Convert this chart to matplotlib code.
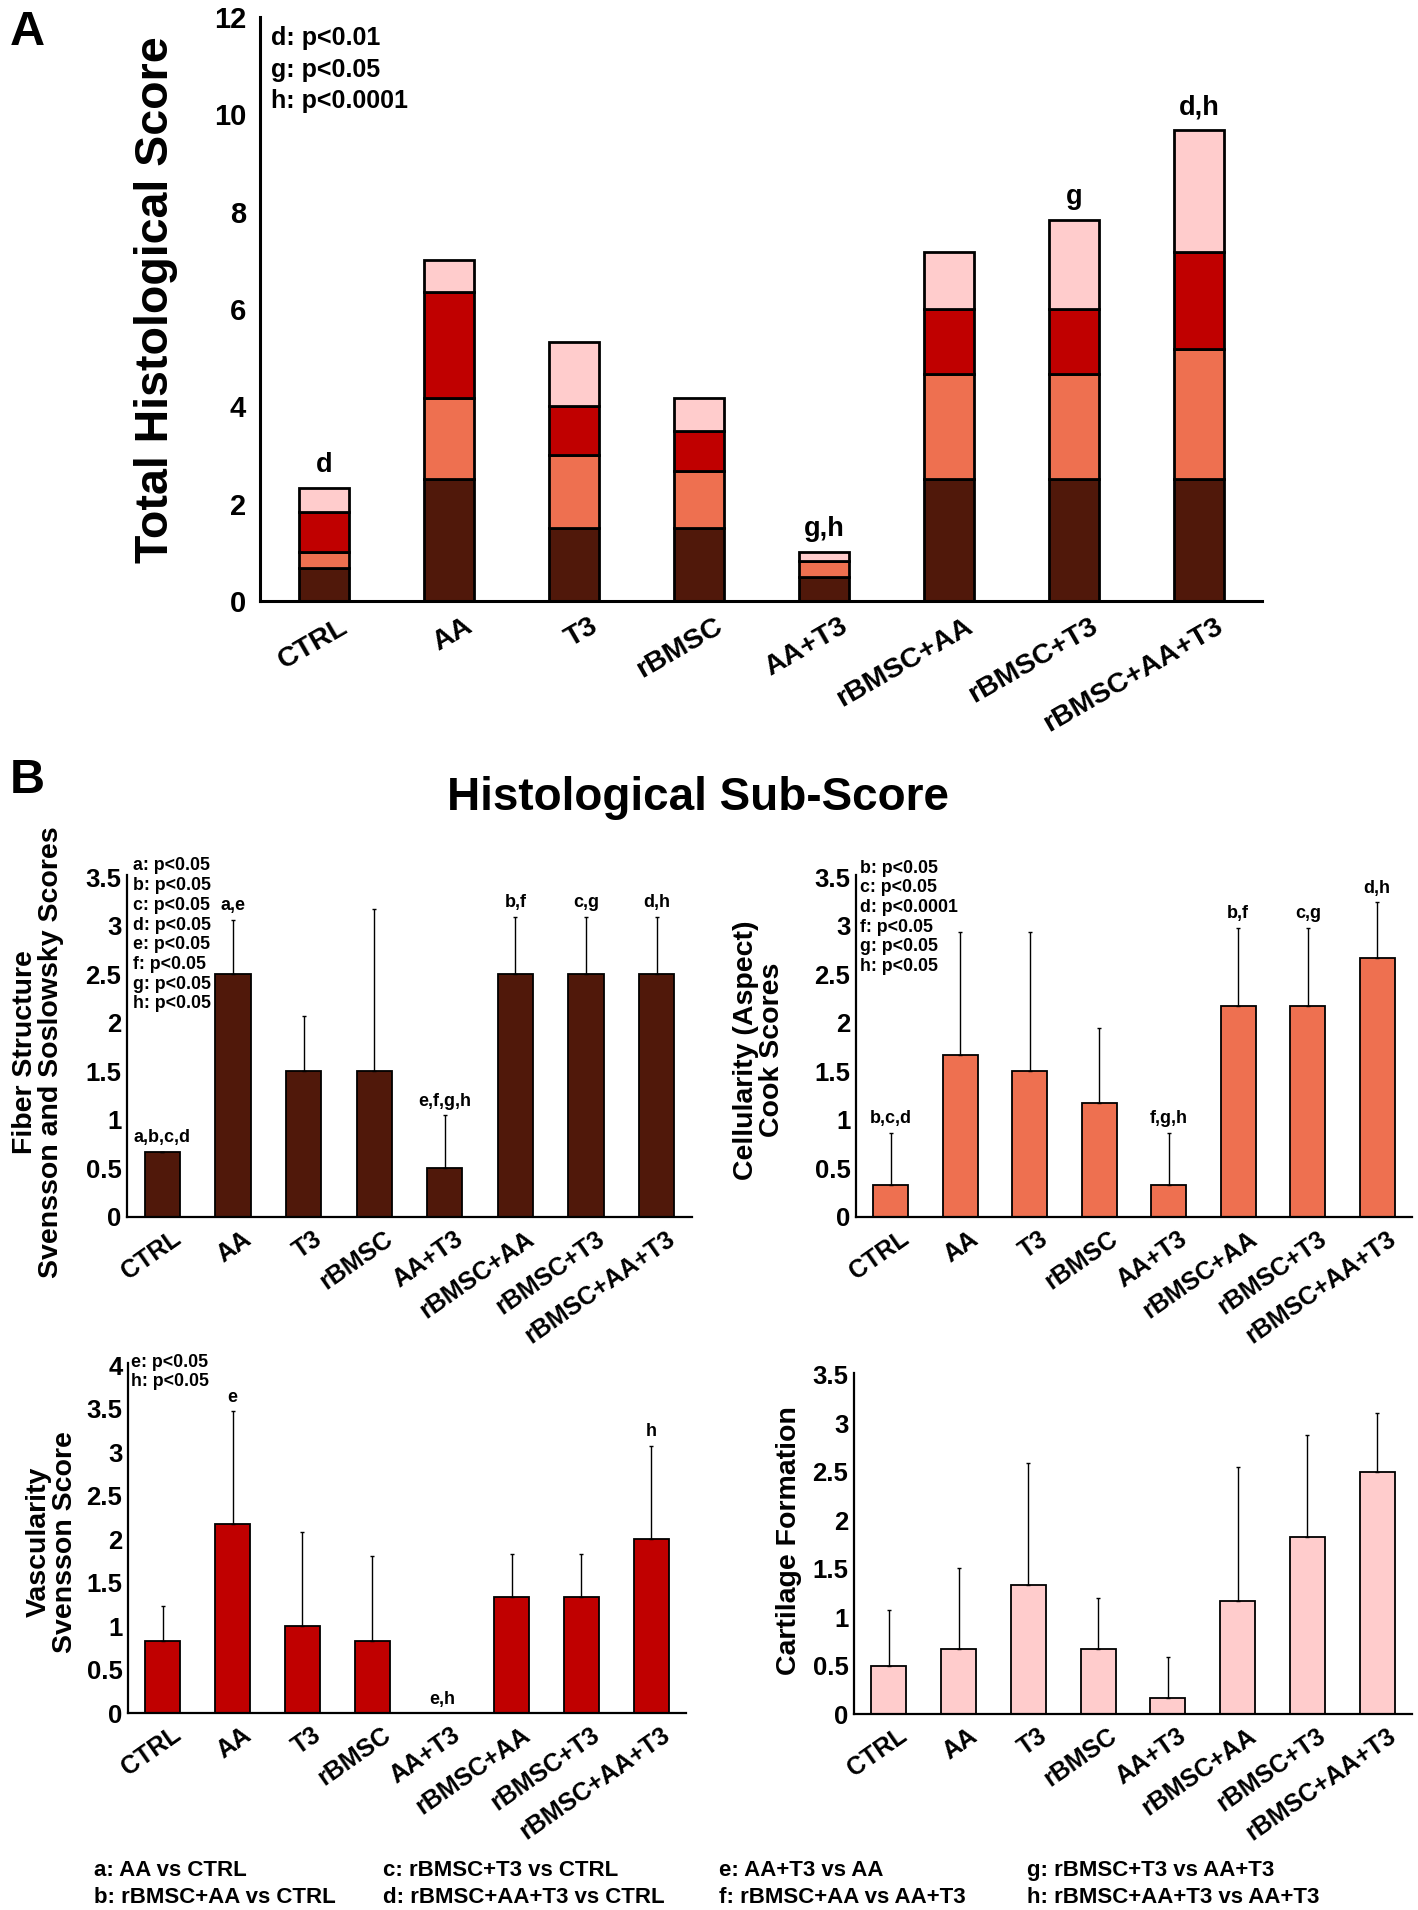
import numpy as np
import matplotlib.pyplot as plt
import matplotlib.transforms as mtransforms
from matplotlib.ticker import FuncFormatter

plt.rcParams['font.family'] = ['Liberation Sans', 'DejaVu Sans']
plt.rcParams['font.weight'] = 'bold'

W, H = 1418, 1910
DPI = 100

groups = ['CTRL', 'AA', 'T3', 'rBMSC', 'AA+T3', 'rBMSC+AA', 'rBMSC+T3', 'rBMSC+AA+T3']

# sub-scores (mean) and upper SD
fiber = [0.67, 2.5, 1.5, 1.5, 0.5, 2.5, 2.5, 2.5]
fiber_sd = [0.0, 0.56, 0.57, 1.67, 0.55, 0.59, 0.59, 0.59]
fiber_sig = ['a,b,c,d', 'a,e', '', '', 'e,f,g,h', 'b,f', 'c,g', 'd,h']
fiber_p = ['a: p<0.05', 'b: p<0.05', 'c: p<0.05', 'd: p<0.05',
           'e: p<0.05', 'f: p<0.05', 'g: p<0.05', 'h: p<0.05']

cell = [0.33, 1.67, 1.5, 1.17, 0.33, 2.17, 2.17, 2.67]
cell_sd = [0.54, 1.26, 1.43, 0.78, 0.54, 0.81, 0.81, 0.57]
cell_sig = ['b,c,d', '', '', '', 'f,g,h', 'b,f', 'c,g', 'd,h']
cell_p = ['b: p<0.05', 'c: p<0.05', 'd: p<0.0001', 'f: p<0.05', 'g: p<0.05', 'h: p<0.05']

vasc = [0.83, 2.17, 1.0, 0.83, 0.0, 1.33, 1.33, 2.0]
vasc_sd = [0.4, 1.3, 1.08, 0.97, 0.0, 0.5, 0.5, 1.07]
vasc_sig = ['', 'e', '', '', 'e,h', '', '', 'h']
vasc_p = ['e: p<0.05', 'h: p<0.05']

cart = [0.5, 0.67, 1.33, 0.67, 0.17, 1.17, 1.83, 2.5]
cart_sd = [0.57, 0.84, 1.26, 0.53, 0.42, 1.38, 1.05, 0.61]
cart_sig = ['', '', '', '', '', '', '', '']

total_sig = ['d', '', '', '', 'g,h', '', 'g', 'd,h']
total_p = ['d: p<0.01', 'g: p<0.05', 'h: p<0.0001']

legend_cols = [['a: AA vs CTRL', 'b: rBMSC+AA vs CTRL'],
               ['c: rBMSC+T3 vs CTRL', 'd: rBMSC+AA+T3 vs CTRL'],
               ['e: AA+T3 vs AA', 'f: rBMSC+AA vs AA+T3'],
               ['g: rBMSC+T3 vs AA+T3', 'h: rBMSC+AA+T3 vs AA+T3']]

c_fiber = '#50180A'
c_cell = '#EE7050'
c_vasc = '#C00000'
c_cart = '#FFCCCC'

fig = plt.figure(figsize=(W / DPI, H / DPI), dpi=DPI)


def px_axes(left, right, y0, unit, ymax):
    top = y0 - unit * ymax
    return fig.add_axes([left / W, 1 - y0 / H, (right - left) / W, (y0 - top) / H])


def ftext(x, y, s, **kw):
    fig.text(x / W, 1 - y / H, s, **kw)


def style_axes(ax, lw, ytick_fs, xtick_fs, rot, ypad, xpad, dx):
    for side in ['top', 'right']:
        ax.spines[side].set_visible(False)
    for side in ['left', 'bottom']:
        ax.spines[side].set_linewidth(lw)
    ax.tick_params(axis='both', length=0)
    ax.tick_params(axis='y', pad=ypad, labelsize=ytick_fs)
    ax.tick_params(axis='x', pad=xpad)
    ax.set_xticks(np.arange(len(groups)))
    ax.set_xticklabels(groups, rotation=rot, ha='right', va='center',
                       rotation_mode='anchor', fontsize=xtick_fs, fontweight='bold')
    shift = mtransforms.ScaledTranslation(dx / DPI, 0, fig.dpi_scale_trans)
    for lab in ax.get_xticklabels():
        lab.set_transform(lab.get_transform() + shift)
    for lab in ax.get_yticklabels():
        lab.set_fontweight('bold')


x = np.arange(len(groups))

# ---------------- Panel A ----------------
axA = px_axes(260, 1262, 601, 48.67, 12)
bottom = np.zeros(len(groups))
for vals, col in zip([fiber, cell, vasc, cart], [c_fiber, c_cell, c_vasc, c_cart]):
    axA.bar(x, vals, 0.4, bottom=bottom, color=col, edgecolor='black', linewidth=2.0)
    bottom = bottom + np.array(vals)
axA.set_xlim(-0.51, 7.5)
axA.set_ylim(0, 12)
axA.set_yticks(range(0, 13, 2))
style_axes(axA, 2.2, 21, 20.5, 30, 10, 17, 22)
for i, s in enumerate(total_sig):
    if s:
        axA.text(i, bottom[i] + 0.33, s, ha='center', va='baseline', fontsize=19.5)
for k, s in enumerate(total_p):
    ftext(271, 38 + k * 31.5, s, ha='left', va='center', fontsize=18)
ftext(156, 300, 'Total Histological Score', rotation=90, ha='center', va='center', fontsize=33.5)
ftext(10, 45, 'A', ha='left', va='baseline', fontsize=35)

# ---------------- Panel B ----------------
ftext(10, 793, 'B', ha='left', va='baseline', fontsize=35)
ftext(698, 798, 'Histological Sub-Score', ha='center', va='center', fontsize=33)

fmt = FuncFormatter(lambda v, p: '%g' % v)


def sub_panel(left, right, y0, unit, ymax, ytop, vals, sd, col, sig, plines, px, py):
    ax = px_axes(left, right, y0, unit, ymax)
    ax.bar(x, vals, 0.5, color=col, edgecolor='black', linewidth=1.3, zorder=2)
    ax.errorbar(x, vals, yerr=[np.zeros(len(vals)), sd], fmt='none', ecolor='black',
                elinewidth=1.0, capsize=1.5, capthick=1.0, zorder=3)
    ax.set_xlim(-0.5, 7.5)
    ax.set_ylim(0, ymax)
    ax.set_yticks(np.arange(0, ytop + 0.01, 0.5))
    ax.yaxis.set_major_formatter(fmt)
    style_axes(ax, 1.6, 18.5, 18, 35, 4, 14, 16)
    for i, s in enumerate(sig):
        if s:
            ax.text(i, vals[i] + sd[i] + 14 / unit, s, ha='center', va='center', fontsize=13)
    for k, s in enumerate(plines):
        ftext(px, py + k * 19.7, s, ha='left', va='center', fontsize=12.8)
    return ax


sub_panel(127, 692, 1217, 97.1, 3.52, 3.5, fiber, fiber_sd, c_fiber, fiber_sig, fiber_p, 133, 866)
sub_panel(856, 1412, 1217, 97.1, 3.52, 3.5, cell, cell_sd, c_cell, cell_sig, cell_p, 860, 868)
sub_panel(128, 686, 1713, 87.0, 4.02, 4.0, vasc, vasc_sd, c_vasc, vasc_sig, vasc_p, 131, 1362)
sub_panel(854, 1412, 1714, 96.9, 3.52, 3.5, cart, cart_sd, c_cart, cart_sig, [], 0, 0)

ftext(38, 1052, 'Fiber Structure\nSvensson and Soslowsky Scores', rotation=90,
      ha='center', va='center', multialignment='center', linespacing=1.0, fontsize=20.5)
ftext(759, 1050, 'Cellularity (Aspect)\nCook Scores', rotation=90,
      ha='center', va='center', multialignment='center', linespacing=1.0, fontsize=20.5)
ftext(52, 1542, 'Vascularity\nSvensson Score', rotation=90,
      ha='center', va='center', multialignment='center', linespacing=1.0, fontsize=20.5)
ftext(789, 1541, 'Cartilage Formation', rotation=90, ha='center', va='center', fontsize=20.5)

# comparison key
col_x = [94, 383, 719, 1027]
for cx, pair in zip(col_x, legend_cols):
    for r, s in enumerate(pair):
        ftext(cx, 1870 + r * 27, s, ha='left', va='center', fontsize=16)

fig.savefig('out.png', dpi=DPI)
